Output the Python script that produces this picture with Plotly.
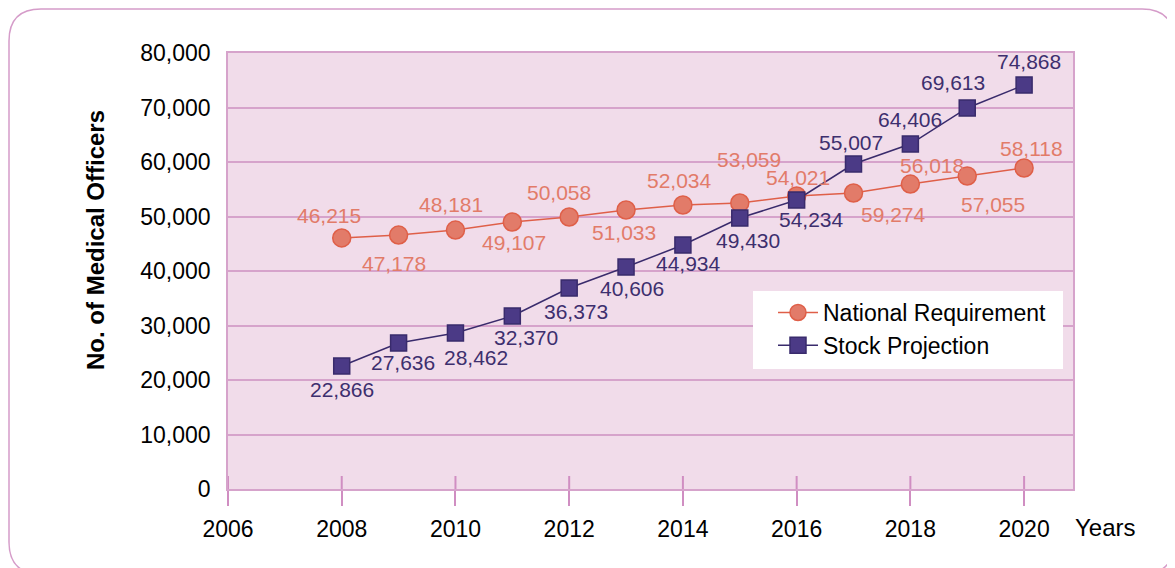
import plotly.graph_objects as go

# data
years = [2008, 2009, 2010, 2011, 2012, 2013, 2014, 2015, 2016, 2017, 2018, 2019, 2020]
national_req = [46060, 46600, 47520, 48990, 49910, 51190, 52110, 52480, 53760, 54310, 55960, 57430, 58900]
stock_proj = [22570, 26790, 28620, 31740, 36880, 40730, 44770, 49720, 53030, 59630, 63300, 69910, 74130]

# printed labels (as shown on the original)
national_labels = ["46,215", "47,178", "48,181", "49,107", "50,058", "51,033", "52,034",
                   "53,059", "54,021", "59,274", "56,018", "57,055", "58,118"]
stock_labels = ["22,866", "27,636", "28,462", "32,370", "36,373", "40,606", "44,934",
                "49,430", "54,234", "55,007", "64,406", "69,613", "74,868"]

x_ticks = [2006, 2008, 2010, 2012, 2014, 2016, 2018, 2020]
y_ticks = [0, 10000, 20000, 30000, 40000, 50000, 60000, 70000, 80000]

# label offsets in pixels (dx, dy) relative to each point
national_off = [(-13, 22), (-5, -28), (-4, 26), (2, -20), (-10, 24), (-2, -22), (-3, 25),
                (9, 43), (1, 19), (40, -21), (22, 19), (26, -28), (7, 20)]
stock_off = [(0, -24), (4, -20), (21, -24), (14, -21), (7, -23), (6, -21), (6, -18),
             (8, -22), (15, -20), (-3, 22), (0, 25), (-14, 25), (5, 23)]

RED = '#e27b69'
RED_LINE = '#df5f48'
PURPLE = '#4b3a86'
PURPLE_LINE = '#392b6c'
GRID = '#d6a3cb'
FONT = 'Liberation Sans, Arial, sans-serif'

# the page has an 8px body margin, so work in page pixels and subtract it
OFF = 8
W, H = 1175 - OFF, 568 - OFF
L, R, T, B = 228 - OFF, 1073 - OFF, 53 - OFF, 489 - OFF


def px(xp):
    return (xp - OFF - L) / (R - L)


def py(yp):
    return (B - (yp - OFF)) / (B - T)


fig = go.Figure()

fig.add_trace(go.Scatter(
    x=years, y=national_req, mode='lines+markers', name='National Requirement',
    line=dict(color=RED_LINE, width=1.5),
    marker=dict(symbol='circle', size=18, color=RED, line=dict(color=RED_LINE, width=1.5)),
))
fig.add_trace(go.Scatter(
    x=years, y=stock_proj, mode='lines+markers', name='Stock Projection',
    line=dict(color=PURPLE_LINE, width=1.5),
    marker=dict(symbol='square', size=16, color=PURPLE, line=dict(color=PURPLE_LINE, width=1.5)),
))

annotations = []
for xv, yv, txt, (dx, dy) in zip(years, national_req, national_labels, national_off):
    annotations.append(dict(x=xv, y=yv, text=txt, showarrow=False, xshift=dx, yshift=dy,
                            font=dict(size=21, color=RED, family=FONT)))
for xv, yv, txt, (dx, dy) in zip(years, stock_proj, stock_labels, stock_off):
    annotations.append(dict(x=xv, y=yv, text=txt, showarrow=False, xshift=dx, yshift=dy,
                            font=dict(size=21, color='#3d2f6e', family=FONT)))

# axis titles
annotations.append(dict(xref='paper', yref='paper', x=px(95), y=py(240),
                        xanchor='center', yanchor='middle',
                        text='<b>No. of Medical Officers</b>', textangle=-90, showarrow=False,
                        font=dict(size=24, color='black', family=FONT)))
annotations.append(dict(xref='paper', yref='paper', x=px(1105), y=py(527),
                        xanchor='center', yanchor='middle',
                        text='Years', showarrow=False,
                        font=dict(size=24, color='black', family=FONT)))

shapes = []
# inner part of the x ticks
for xv in x_ticks:
    shapes.append(dict(type='line', xref='x', yref='paper', x0=xv, x1=xv, y0=0, y1=13 / (B - T),
                       line=dict(color='#d08ec2', width=2)))

# white legend box
shapes.append(dict(type='rect', xref='paper', yref='paper',
                   x0=px(753), x1=px(1063), y0=py(369), y1=py(291),
                   fillcolor='white', line=dict(width=0), layer='above'))

# rounded outer frame (bottom edge falls below the page)
x0, x1, y0, y1, r = OFF + 1, 1174, OFF + 1, 574, 32
path = (f"M {px(x0 + r)},{py(y0)} L {px(x1 - r)},{py(y0)} "
        f"Q {px(x1)},{py(y0)} {px(x1)},{py(y0 + r)} L {px(x1)},{py(y1 - r)} "
        f"Q {px(x1)},{py(y1)} {px(x1 - r)},{py(y1)} L {px(x0 + r)},{py(y1)} "
        f"Q {px(x0)},{py(y1)} {px(x0)},{py(y1 - r)} L {px(x0)},{py(y0 + r)} "
        f"Q {px(x0)},{py(y0)} {px(x0 + r)},{py(y0)} Z")
shapes.append(dict(type='path', xref='paper', yref='paper', path=path,
                   line=dict(color='#d59cc9', width=1.5), layer='below'))

fig.update_layout(
    width=W, height=H,
    margin=dict(l=L, r=W - R, t=T, b=H - B, autoexpand=False),
    plot_bgcolor='#f1dcea',
    paper_bgcolor='white',
    font=dict(family=FONT, size=23, color='black'),
    showlegend=True,
    legend=dict(x=px(773), y=py(291), xanchor='left', yanchor='top',
                bgcolor='rgba(0,0,0,0)', borderwidth=0, font=dict(size=23),
                tracegroupgap=0, itemwidth=40),
    annotations=annotations,
    shapes=shapes,
)

fig.update_xaxes(
    range=[2006, 2020.86], tickvals=x_ticks, ticks='outside', ticklen=15, tickwidth=2,
    tickcolor='#d08ec2', showgrid=False, zeroline=False,
    showline=True, linecolor=GRID, linewidth=1.5, mirror=True,
    tickfont=dict(size=23), ticklabelstandoff=4,
)
fig.update_yaxes(
    range=[0, 80000], tickvals=y_ticks, tickformat=',', ticks='', showgrid=True,
    gridcolor=GRID, gridwidth=1.5, zeroline=False,
    showline=True, linecolor=GRID, linewidth=1.5, mirror=True,
    tickfont=dict(size=23), ticklabelstandoff=11,
)

fig.write_html("out.html")
